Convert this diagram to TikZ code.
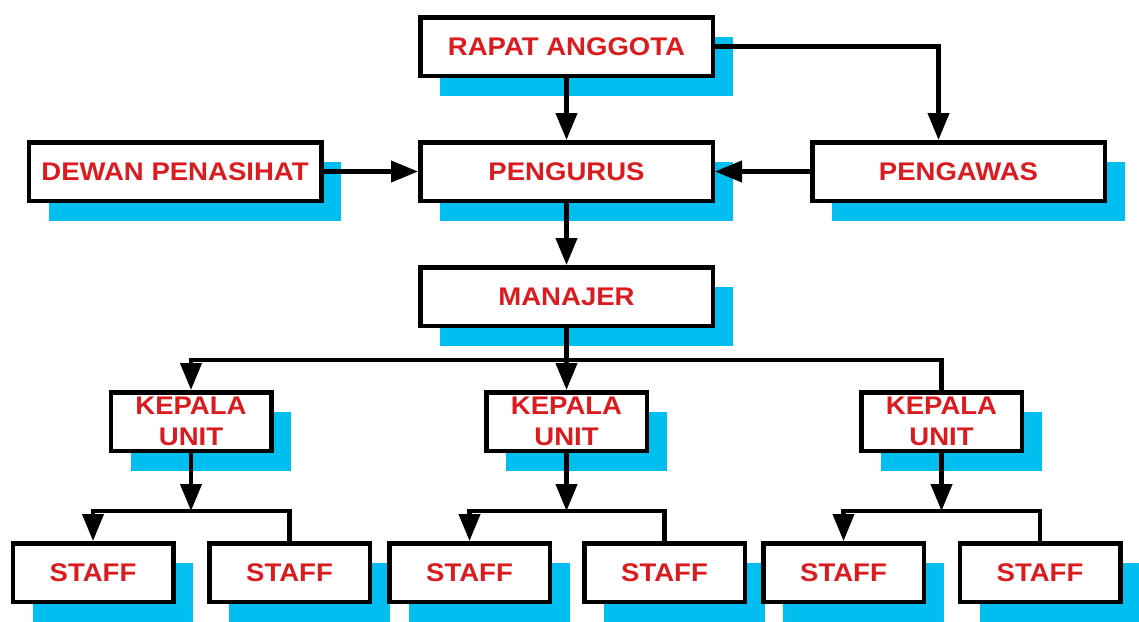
\documentclass[tikz,border=0pt]{standalone}
\usepackage{fontspec}
\setmainfont{Liberation Sans}[FakeStretch=1.08]
\usetikzlibrary{arrows.meta,shadows}
\definecolor{shcyan}{RGB}{0,191,240}
\definecolor{txtred}{RGB}{218,28,32}
\newcommand{\kpu}{\begin{tabular}[t]{@{}c@{}}KEPALA\\UNIT\end{tabular}}
\begin{document}
\begin{tikzpicture}[x=1pt,y=-1pt,
  box/.style={draw=black, line width=4.5pt, fill=white, minimum height=58.5pt,
    text=txtred, font=\fontsize{25.5}{31}\selectfont\bfseries, align=center, inner sep=0pt,
    text depth=0pt,
    drop shadow={shadow xshift=20pt, shadow yshift=-20pt, fill=shcyan, opacity=1}},
  wide/.style={box, minimum width=292.5pt},
  narrow/.style={box, minimum width=160.5pt},
  kep/.style={narrow, text height=17.5pt, text depth=32.5pt},
  conn/.style={line width=4.2pt, line join=miter},
  arr/.style={conn, -{Triangle[length=27pt,width=21pt]}}]
\clip (0,0) rectangle (1139,621);
\fill[white] (0,0) rectangle (1139,621);
% top level
\node[wide] (rapat) at (566.5,46.5) {RAPAT ANGGOTA};
\node[wide] (pengurus) at (566.5,171.5) {PENGURUS};
\node[wide] (dewan) at (175,171.5) {DEWAN PENASIHAT};
\node[wide] (pengawas) at (958.5,171.5) {PENGAWAS};
\node[wide] (manajer) at (566.5,296.5) {MANAJER};
% kepala unit
\node[kep] (ku1) at (191,421.5) {\kpu};
\node[kep] (ku2) at (566.5,421.5) {\kpu};
\node[kep] (ku3) at (941.5,421.5) {\kpu};
% staff
\node[narrow] (s1a) at (93,572.5) {STAFF};
\node[narrow] (s1b) at (289.5,572.5) {STAFF};
\node[narrow] (s2a) at (469.5,572.5) {STAFF};
\node[narrow] (s2b) at (664.5,572.5) {STAFF};
\node[narrow] (s3a) at (843.5,572.5) {STAFF};
\node[narrow] (s3b) at (1040,572.5) {STAFF};
% connectors
\draw[arr] (rapat) -- (pengurus);
\draw[arr] (rapat.east) -| ([xshift=-20pt]pengawas.north);
\draw[arr] (dewan) -- (pengurus);
\draw[arr] (pengawas) -- (pengurus);
\draw[arr] (pengurus) -- (manajer);
\coordinate (bus) at (566.5,360);
\draw[arr] (manajer) -- (ku2);
\draw[arr] (ku3.north) |- (bus) -| (ku1.north);
\coordinate (b1) at (191,511);
\coordinate (b2) at (566.5,511);
\coordinate (b3) at (941.5,511);
\draw[arr] (ku1.south) -- (b1);
\draw[arr] (ku2.south) -- (b2);
\draw[arr] (ku3.south) -- (b3);
\draw[arr] (s1b.north) |- (b1) -| (s1a.north);
\draw[arr] (s2b.north) |- (b2) -| (s2a.north);
\draw[arr] (s3b.north) |- (b3) -| (s3a.north);
\end{tikzpicture}
\end{document}
